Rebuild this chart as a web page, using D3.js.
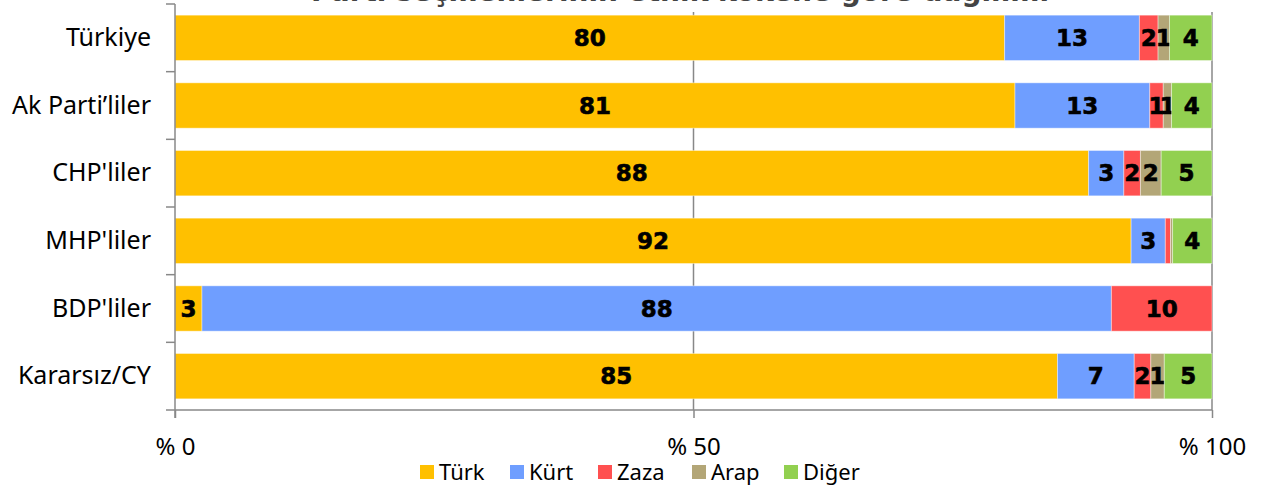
<!DOCTYPE html>
<html>
<head>
<meta charset="utf-8">
<script src="https://cdn.jsdelivr.net/npm/d3@7"></script>
<style>
  body { margin: 0; background: #fff; }
  svg { display: block; }
</style>
</head>
<body>
<div id="chart"></div>
<script>
// Data (percent of each group)
const groups = ["Türkiye", "Ak Parti’liler", "CHP'liler", "MHP'liler", "BDP'liler", "Kararsız/CY"];
const origins = ["Türk", "Kürt", "Zaza", "Arap", "Diğer"];
const turk  = [80.0, 81.0, 88.1, 92.2, 2.6, 85.1];
const kurt  = [13.0, 13.0, 3.4, 3.3, 87.7, 7.4];
const zaza  = [1.8, 1.3, 1.6, 0.5, 9.7, 1.6];
const arap  = [1.1, 0.8, 2.0, 0.2, 0, 1.3];
const diger = [4.1, 3.9, 4.9, 3.8, 0, 4.6];
const xTicks = [0, 50, 100];

const colors = ["#ffc000", "#6f9eff", "#ff5050", "#b3a677", "#92d050"];

const width = 1266;
const height = 488;
const plot = { left: 175, right: 1212, top: 4, bottom: 410 };
const font = "'Noto Sans', Arial, sans-serif";

const rows = groups.map((g, i) => ({
  group: g,
  "Türk": turk[i], "Kürt": kurt[i], "Zaza": zaza[i], "Arap": arap[i], "Diğer": diger[i]
}));

const svg = d3.select("#chart").append("svg")
  .attr("width", width)
  .attr("height", height);

const x = d3.scaleLinear().domain([0, 100]).range([plot.left, plot.right]);
const y = d3.scaleBand().domain(groups).range([plot.top, plot.bottom])
  .paddingInner(0.33).paddingOuter(0.165);

// Title (mostly cut off at the top)
svg.append("text")
  .attr("x", 680)
  .attr("y", 1)
  .attr("text-anchor", "middle")
  .style("font-family", "'DejaVu Sans', sans-serif")
  .style("font-weight", "bold")
  .style("font-size", "28px")
  .style("fill", "#444")
  .text("Parti seçmenlerinin etnik kökene göre dağılımı");

// Vertical lines at 50 and 100
svg.append("g").selectAll("line")
  .data(xTicks.slice(1))
  .join("line")
  .attr("x1", d => x(d)).attr("x2", d => x(d))
  .attr("y1", plot.top + 8).attr("y2", plot.bottom)
  .style("stroke", "#888").style("stroke-width", 1.5);

// Stacked bars
const series = d3.stack().keys(origins)(rows);

const layer = svg.append("g").selectAll("g")
  .data(series)
  .join("g")
  .attr("fill", (d, i) => colors[i]);

layer.selectAll("rect")
  .data(d => d.map(v => ({ v, key: d.key })))
  .join("rect")
  .attr("x", d => x(d.v[0]))
  .attr("y", d => y(d.v.data.group))
  .attr("width", d => Math.max(0, x(d.v[1]) - x(d.v[0])))
  .attr("height", y.bandwidth())
  .attr("stroke", "#fff")
  .attr("stroke-opacity", 0.4)
  .attr("stroke-width", 1);

// Data labels
layer.selectAll("text")
  .data(d => d.map(v => ({ v, key: d.key })).filter(d => d.v[1] - d.v[0] >= 0.7))
  .join("text")
  .attr("x", d => x((d.v[0] + d.v[1]) / 2))
  .attr("y", d => y(d.v.data.group) + y.bandwidth() / 2)
  .attr("dy", "0.36em")
  .attr("text-anchor", "middle")
  .style("font-family", "'DejaVu Sans', sans-serif")
  .style("font-weight", "bold")
  .style("font-size", "23px")
  .style("fill", "#000")
  .style("stroke", "#000")
  .style("stroke-width", 0.6)
  .text(d => Math.round(d.v[1] - d.v[0]));

// Y axis
const yAxis = svg.append("g")
  .attr("transform", `translate(${plot.left},0)`)
  .call(d3.axisLeft(y).tickSize(0).tickPadding(24));
yAxis.select(".domain").remove();
yAxis.selectAll("text")
  .style("font-family", font)
  .style("font-size", "25px")
  .style("fill", "#000");

// Category separator ticks
const bounds = d3.range(groups.length + 1).map(i => plot.top + i * y.step());
svg.append("g").selectAll("line")
  .data(bounds)
  .join("line")
  .attr("x1", plot.left - 9).attr("x2", plot.left)
  .attr("y1", d => d).attr("y2", d => d)
  .style("stroke", "#888").style("stroke-width", 1.5);

svg.append("line")
  .attr("x1", plot.left).attr("x2", plot.left)
  .attr("y1", plot.top).attr("y2", plot.bottom + 8)
  .style("stroke", "#888").style("stroke-width", 1.5);

// X axis
const xAxis = svg.append("g")
  .attr("transform", `translate(0,${plot.bottom})`)
  .call(d3.axisBottom(x).tickValues(xTicks).tickSize(8).tickPadding(20)
    .tickFormat(d => "% " + d));
xAxis.select(".domain").attr("d", `M${plot.left},0H${plot.right}`).style("stroke", "#888").style("stroke-width", 1.5);
xAxis.selectAll("line").style("stroke", "#888").style("stroke-width", 1.5);
xAxis.selectAll("text")
  .style("font-family", font)
  .style("font-size", "24px")
  .style("fill", "#000");

// Legend
const legendX = [420, 510, 598, 692, 784];
const legend = svg.append("g").selectAll("g")
  .data(origins)
  .join("g")
  .attr("transform", (d, i) => `translate(${legendX[i]},465)`);
legend.append("rect")
  .attr("width", 14).attr("height", 14)
  .attr("fill", (d, i) => colors[i]);
legend.append("text")
  .attr("x", 19).attr("y", 15)
  .style("font-family", font)
  .style("font-size", "22px")
  .style("fill", "#000")
  .text(d => d);
</script>
</body>
</html>
